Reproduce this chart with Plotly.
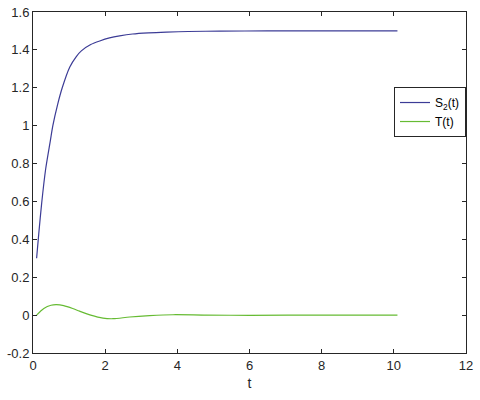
import plotly.graph_objects as go

t_s2 = [0.1, 0.16, 0.24, 0.35, 0.48, 0.55, 0.68, 0.81, 1.02, 1.2, 1.34, 1.6, 1.85, 2.12, 2.4, 2.76, 3.2, 3.7, 4.3, 5.17, 6.5, 8.0, 10.1]
s2 = [0.30, 0.43, 0.59, 0.77, 0.92, 1.00, 1.11, 1.20, 1.31, 1.365, 1.395, 1.428, 1.447, 1.463, 1.474, 1.484, 1.490, 1.494, 1.497, 1.499, 1.5, 1.5, 1.5]

t_T = [0.1, 0.3, 0.5, 0.65, 0.85, 1.1, 1.29, 1.6, 1.94, 2.22, 2.68, 3.23, 3.88, 4.8, 6.0, 8.0, 10.1]
T = [0.0, 0.035, 0.052, 0.055, 0.05, 0.035, 0.021, 0.0, -0.016, -0.019, -0.01, -0.003, 0.002, 0.0, -0.001, 0.0, 0.0]

x_ticks = [0, 2, 4, 6, 8, 10, 12]
y_ticks = [-0.2, 0, 0.2, 0.4, 0.6, 0.8, 1, 1.2, 1.4, 1.6]

FONT = "Liberation Sans, Arial"

fig = go.Figure()
fig.add_trace(go.Scatter(x=t_s2, y=s2, mode="lines", name="S<sub>2</sub>(t)",
                         line=dict(color="#3c3c96", width=1.2, shape="spline", smoothing=0.8)))
fig.add_trace(go.Scatter(x=t_T, y=T, mode="lines", name="T(t)",
                         line=dict(color="#66bb33", width=1.2, shape="spline", smoothing=0.8)))

axis_common = dict(showline=True, linecolor="#262626", linewidth=1, mirror="ticks",
                   ticks="inside", ticklen=4, tickcolor="#262626", showgrid=False,
                   zeroline=False, automargin=False,
                   tickfont=dict(family=FONT, size=13, color="#262626"))

fig.update_xaxes(range=[0, 12], tickvals=x_ticks, ticktext=[str(v) for v in x_ticks],
                 title=dict(text="t", font=dict(family=FONT, size=14, color="#262626"), standoff=6),
                 **axis_common)
fig.update_yaxes(range=[-0.2, 1.6], tickvals=y_ticks,
                 ticktext=["-0.2", "0", "0.2", "0.4", "0.6", "0.8", "1", "1.2", "1.4", "1.6"],
                 **axis_common)

fig.update_layout(
    width=480, height=400,
    margin=dict(l=33, r=14, t=12, b=47),
    plot_bgcolor="white", paper_bgcolor="white",
    font=dict(family=FONT, size=12, color="#262626"),
    legend=dict(x=1, xanchor="right", y=0.78, yanchor="top",
                bordercolor="#262626", borderwidth=1, bgcolor="white",
                font=dict(family=FONT, size=12, color="#000000"), itemwidth=30,
                tracegroupgap=0),
    showlegend=True,
)

fig.write_html("out.html", config={"displayModeBar": False},
               post_script="document.body.style.margin='0';document.body.style.overflow='hidden';")
